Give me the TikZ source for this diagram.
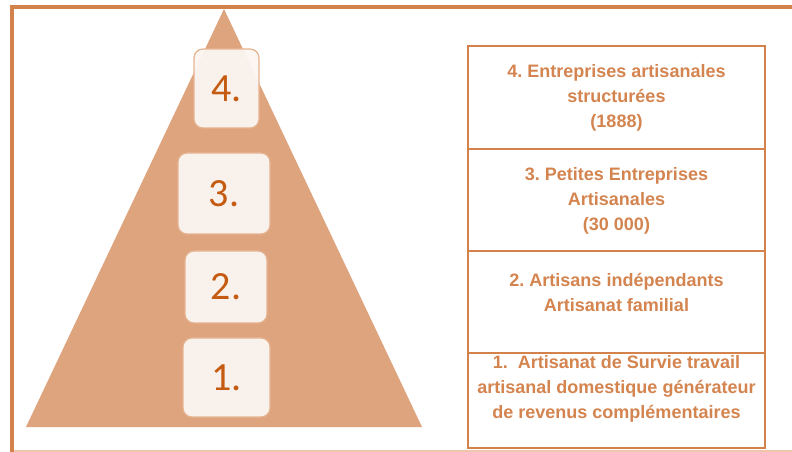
\documentclass[tikz,border=0pt]{standalone}
\usepackage{fontspec}
\setmainfont{Liberation Sans}
\newfontfamily\digitfont{Carlito}
\frenchspacing
\definecolor{frameor}{HTML}{D4824C}
\definecolor{framelight}{HTML}{EDC6AC}
\definecolor{trifill}{HTML}{DEA47E}
\definecolor{boxfill}{HTML}{FBF6F2}
\definecolor{boxline}{HTML}{E6B391}
\definecolor{digitcol}{HTML}{C55A11}
\definecolor{tabline}{HTML}{D4824C}
\definecolor{tabtext}{HTML}{D4844F}
\begin{document}
\begin{tikzpicture}[x=1bp,y=-1bp,
  levelbox/.style={draw=boxline, line width=1.2bp, fill=boxfill, fill opacity=0.94, text opacity=1,
    rounded corners=9bp, inner sep=0pt, font=\digitfont\fontsize{40bp}{40bp}\selectfont, text=digitcol},
  cell/.style={draw=tabline, line width=1.3bp},
  celltext/.style={font=\bfseries\fontsize{18bp}{25bp}\selectfont, text=tabtext, align=center, inner sep=0pt}]
\useasboundingbox (0,0) rectangle (792,452);
\fill[white] (0,0) rectangle (792,452);
% frame
\draw[framelight, line width=2bp] (12,451) -- (792,451);
\draw[frameor, line width=4bp] (12,452) -- (12,7) -- (792,7);
% pyramid
\fill[trifill] (26,427) -- (422,427) -- (224,9) -- cycle;
% level boxes
\node[levelbox, minimum width=65bp, minimum height=79bp] (b4) at (226.5,88.5) {4.};
\node[levelbox, minimum width=92bp, minimum height=81bp] (b3) at (224,193.5) {3.};
\node[levelbox, minimum width=82bp, minimum height=72bp] (b2) at (226,287) {2.};
\node[levelbox, minimum width=87bp, minimum height=79bp] (b1) at (226.5,377.5) {1.};
% table
\draw[cell] (468,46) rectangle (765,149);
\draw[cell] (468,149) rectangle (765,251);
\draw[cell] (468,251) rectangle (765,353);
\draw[cell] (468,353) rectangle (765,448);
\node[celltext] (t4) at (616.5,98) {4. Entreprises artisanales\\structurées\\(1888)};
\node[celltext] (t3) at (616.5,201) {3. Petites Entreprises\\Artisanales\\(30 000)};
\node[celltext] (t2) at (616.5,292) {2. Artisans indépendants\\Artisanat familial};
\node[celltext] (t1) at (616.5,389) {1.\ \ Artisanat de Survie travail\\artisanal domestique générateur\\de revenus complémentaires};
\end{tikzpicture}
\end{document}
